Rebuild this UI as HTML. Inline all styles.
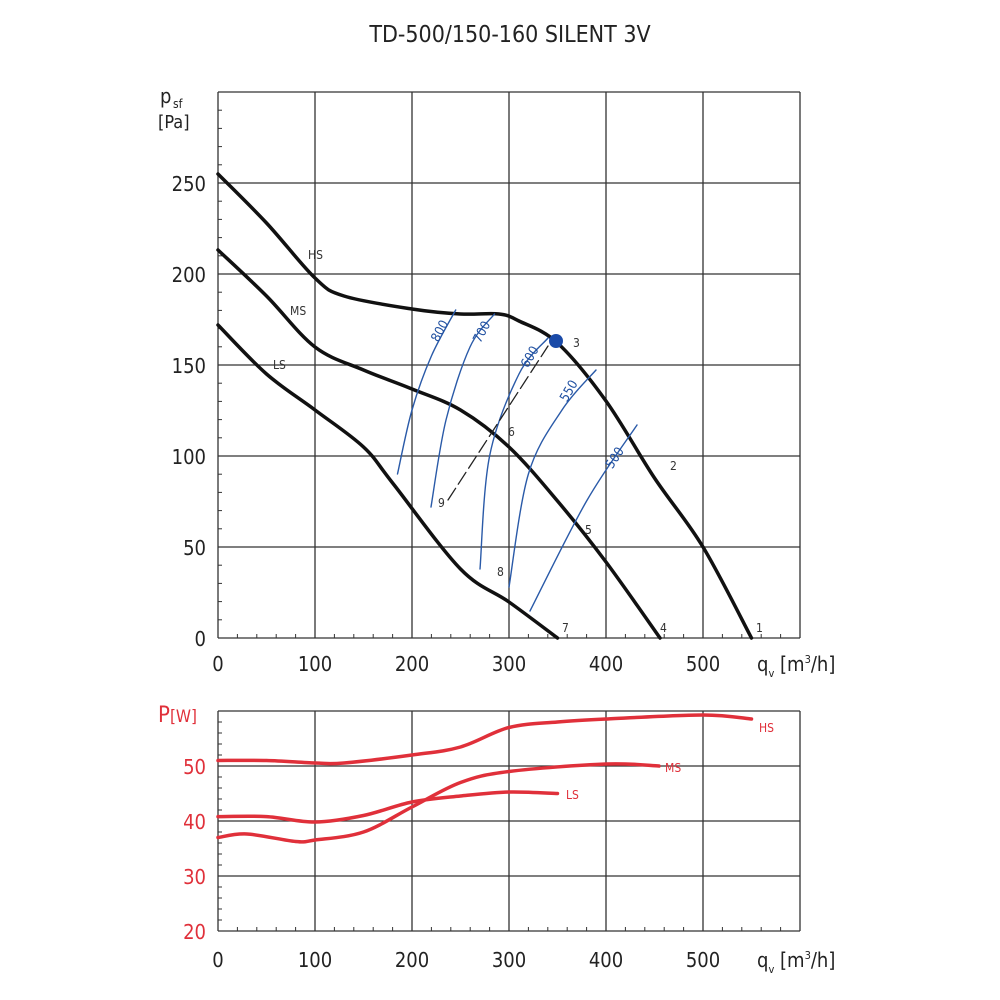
<!DOCTYPE html>
<html><head><meta charset="utf-8"><style>
html,body{margin:0;padding:0;background:#fff;}
svg{display:block;font-family:"DejaVu Sans Condensed","Liberation Sans",sans-serif;}
</style></head><body>
<svg id="s" width="1000" height="1000" viewBox="0 0 1000 1000" xmlns="http://www.w3.org/2000/svg">
<text x="510" y="42" font-size="23" text-anchor="middle" fill="#222">TD-500/150-160 SILENT 3V</text>
<g id="g1" stroke="#333" stroke-width="1.3"></g>
<g font-size="20" fill="#222" text-anchor="end">
<text x="206" y="191">250</text><text x="206" y="282">200</text><text x="206" y="373">150</text>
<text x="206" y="464">100</text><text x="206" y="555">50</text><text x="206" y="646">0</text>
</g>
<text x="160" y="103" font-size="20" fill="#222">p</text><text x="173" y="108" font-size="12" fill="#222">sf</text>
<text x="158" y="128" font-size="18" fill="#222">[Pa]</text>
<g font-size="20" fill="#222" text-anchor="middle">
<text x="218" y="671">0</text><text x="315" y="671">100</text><text x="412" y="671">200</text>
<text x="509" y="671">300</text><text x="606" y="671">400</text><text x="703" y="671">500</text>
<text x="218" y="967">0</text><text x="315" y="967">100</text><text x="412" y="967">200</text>
<text x="509" y="967">300</text><text x="606" y="967">400</text><text x="703" y="967">500</text>
</g>
<text x="757" y="671" font-size="20" fill="#222">q<tspan font-size="11" dy="6">v</tspan><tspan dy="-6"> [m</tspan><tspan font-size="11" dy="-8">3</tspan><tspan dy="8">/h]</tspan></text>
<text x="757" y="967" font-size="20" fill="#222">q<tspan font-size="11" dy="6">v</tspan><tspan dy="-6"> [m</tspan><tspan font-size="11" dy="-8">3</tspan><tspan dy="8">/h]</tspan></text>
<g font-size="20" fill="#e0303a" text-anchor="end">
<text x="206" y="774">50</text><text x="206" y="829">40</text><text x="206" y="884">30</text><text x="206" y="939">20</text>
</g>
<text x="158" y="722" font-size="22" fill="#e0303a">P<tspan font-size="17">[W]</tspan></text>
<g id="curves" fill="none"></g>
<g font-size="12" fill="#333">
<text x="308" y="259">HS</text><text x="290" y="315">MS</text><text x="273" y="369">LS</text>
<text x="573" y="347">3</text><text x="670" y="470">2</text><text x="756" y="632">1</text>
<text x="585" y="534">5</text><text x="660" y="632">4</text><text x="508" y="436">6</text>
<text x="562" y="632">7</text><text x="497" y="576">8</text><text x="438" y="507">9</text>
</g>
<g font-size="13" fill="#1f4fa0" text-anchor="middle">
<text transform="translate(440,331) rotate(-62)" y="4">800</text>
<text transform="translate(482,332) rotate(-62)" y="4">700</text>
<text transform="translate(530,357) rotate(-60)" y="4">600</text>
<text transform="translate(569,391) rotate(-60)" y="4">550</text>
<text transform="translate(615,458) rotate(-57)" y="4">500</text>
</g>
<circle cx="556" cy="341" r="7" fill="#1a4aa8"/>
<g font-size="12" fill="#e0303a">
<text x="759" y="732">HS</text><text x="665" y="772">MS</text><text x="566" y="799">LS</text>
</g>
</svg>
<script>
var NS="http://www.w3.org/2000/svg";
var g1=document.getElementById('g1');
function L(x1,y1,x2,y2,w){var l=document.createElementNS(NS,'line');l.setAttribute('x1',x1);l.setAttribute('y1',y1);l.setAttribute('x2',x2);l.setAttribute('y2',y2);if(w)l.setAttribute('stroke-width',w);g1.appendChild(l);}
// top grid
for(var i=0;i<=6;i++){var x=218+97*i;L(x,92,x,638);}
for(var i=0;i<=6;i++){var y=638-91*i;L(218,y,800,y);}
for(var v=0;v<=300;v+=10){var y=638-1.82*v;L(218,y,222,y,1);}
for(var q=0;q<=600;q+=20){var x=218+0.97*q;L(x,638,x,634,1);}
// bottom grid
for(var i=0;i<=6;i++){var x=218+97*i;L(x,711,x,931);}
for(var i=0;i<=4;i++){var y=931-55*i;L(218,y,800,y);}
for(var v=20;v<=60;v+=2){var y=931-5.5*(v-20);L(218,y,222,y,1);}
for(var q=0;q<=600;q+=20){var x=218+0.97*q;L(x,931,x,927,1);}
var cg=document.getElementById('curves');
function C(pts,col,w,dash){var d='M'+pts[0][0]+','+pts[0][1];
for(var i=0;i<pts.length-1;i++){var p0=pts[i-1]||pts[i],p1=pts[i],p2=pts[i+1],p3=pts[i+2]||p2;
d+=' C'+(p1[0]+(p2[0]-p0[0])/6)+','+(p1[1]+(p2[1]-p0[1])/6)+' '+(p2[0]-(p3[0]-p1[0])/6)+','+(p2[1]-(p3[1]-p1[1])/6)+' '+p2[0]+','+p2[1];}
var p=document.createElementNS(NS,'path');p.setAttribute('d',d);p.setAttribute('stroke',col);p.setAttribute('stroke-width',w);p.setAttribute('stroke-linecap','round');if(dash)p.setAttribute('stroke-dasharray',dash);cg.appendChild(p);}
var K='#111',B='#2a5aa8',R='#e0303a';
C([[218,174],[266.5,223],[315,278],[344,296],[412,309],[460.5,314],[499,314],[519,321],[557.5,343],[606,401],[654.5,478],[703,547],[751.5,638]],K,3.5);
C([[218,250],[266.5,296],[315,347],[363.5,370],[412,389],[460.5,410],[509,447],[557.5,501],[606,562],[660,638]],K,3.5);
C([[218,325],[266.5,374],[315,410],[363.5,447],[392.6,483],[460.5,569],[509,602],[557.5,638]],K,3.5);
C([[397.5,474],[412,410],[431.4,356],[455.7,310]],B,1.4);
C([[431,507],[446,420],[470,347],[494.5,314]],B,1.4);
C([[480,569],[489.6,456],[519,374],[548,338]],B,1.4);
C([[509,587],[528.4,474],[562,410],[596,370]],B,1.4);
C([[530,611],[586.6,501],[637,425]],B,1.4);
C([[448,500],[548,346]],'#222',1.3,'14,5');
C([[218,760.5],[266.5,760.5],[315,763],[344,763],[412,755],[460.5,747],[509,727.5],[557.5,722],[606,719],[703,715],[751.5,719]],R,3.5);
C([[218,837.5],[247,834],[295.6,841.5],[315,840],[363.5,832],[412,807],[460.5,782.5],[509,771.5],[606,764],[659,766]],R,3.5);
C([[218,816.6],[266.5,816.6],[315,822],[363.5,815.5],[412,802],[460.5,796],[509,792],[557.5,793.5]],R,3.5);
</script>
</body></html>
